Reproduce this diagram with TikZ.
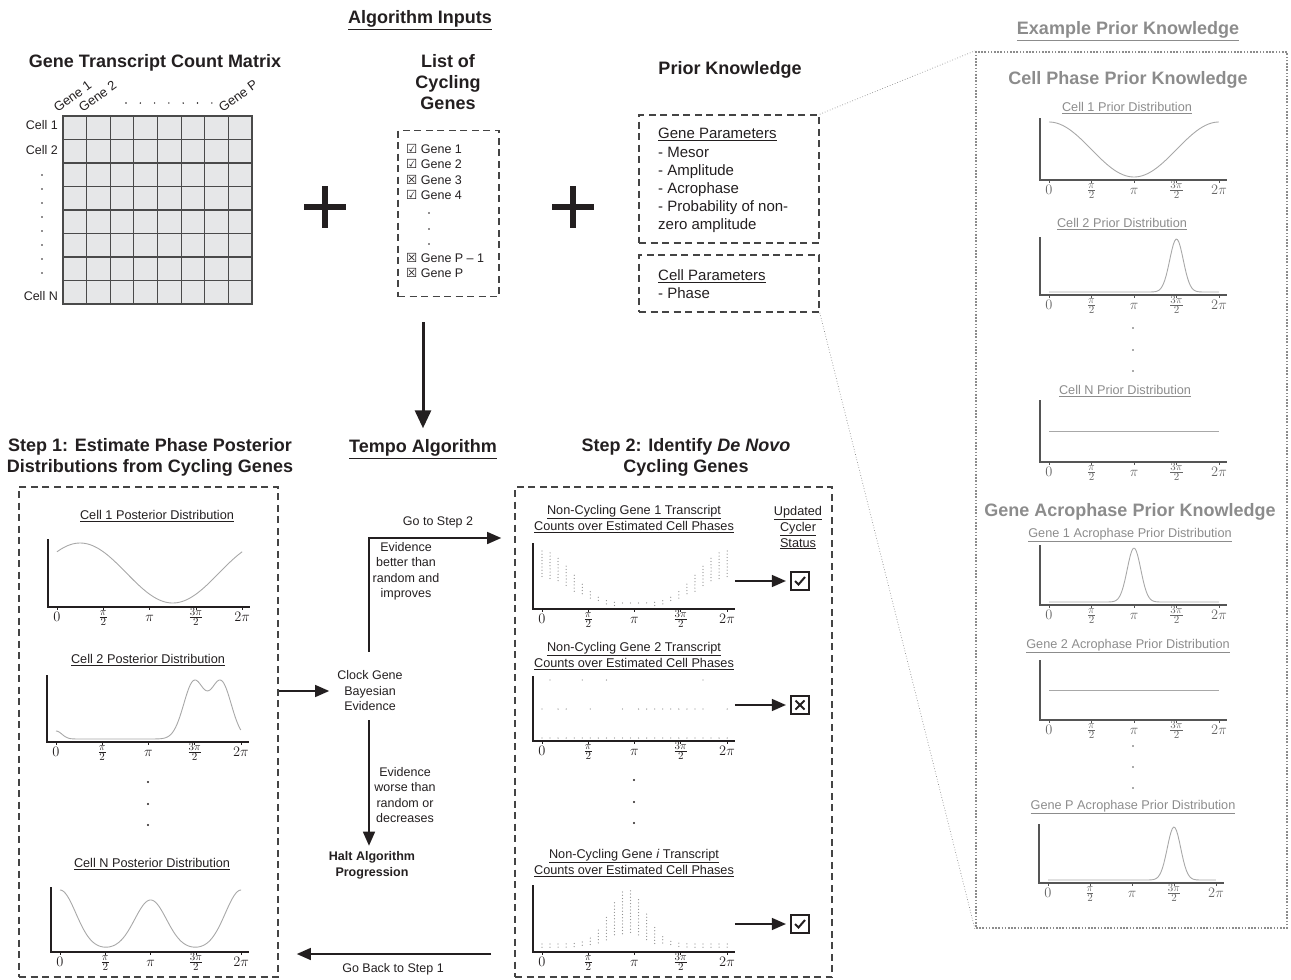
\documentclass[tikz,border=0pt]{standalone}
\usepackage{fontspec}
\setmainfont{Liberation Sans}
\newfontfamily\symfnt{DejaVu Sans}
\usetikzlibrary{arrows.meta,calc}
\definecolor{ink}{HTML}{231F20}
\definecolor{cvc}{HTML}{A8A8A8}
\definecolor{gtx}{HTML}{8C8C8C}
\definecolor{rpax}{HTML}{555555}
\definecolor{rplab}{HTML}{666666}
\definecolor{cellfill}{HTML}{E6E7E8}
\definecolor{gridc}{HTML}{4A4A4A}
\definecolor{dotc}{HTML}{8E8E8E}
\definecolor{dashc}{HTML}{444444}
\newcommand\fsz[2]{\fontsize{#1}{#2}\selectfont}
% #1 x of 0 tick, #2 y of x axis, #3 tick spacing, #4 axis height, #5 axis colour, #6 label colour
\newcommand\plotaxes[6]{%
  \draw[#5, line width=1.3pt] (#1-9,#2-#4) -- (#1-9,#2) -- (#1+4*#3+8,#2);
  \foreach \kk/\tlab in {0/{$0$},1/{$\frac{\pi}{2}$},2/{$\pi$},3/{$\frac{3\pi}{2}$},4/{$2\pi$}}{%
    \draw[#5, line width=0.6pt] (#1+\kk*#3,#2) -- (#1+\kk*#3,#2+2.5);
    \node[ticklbl, text=#6] at (#1+\kk*#3,#2+14) {\tlab};}%
}
\begin{document}
\begin{tikzpicture}[x=1pt,y=-1pt,
  declare function={gs(\pa,\pb,\pc)=exp(max(-9,(0-0.5)*(((\pa-\pb)/\pc)^2)));},
  txt/.style={inner sep=0pt, text=ink, font=\fsz{12.5}{15.5}, align=center},
  ttl/.style={inner sep=0pt, text=ink, font=\bfseries\fsz{18}{21}, align=center},
  ptl/.style={inner sep=0pt, text=ink, font=\fsz{12.7}{16}, align=center},
  gtl/.style={ttl, text=gtx},
  gpt/.style={ptl, text=gtx},
  ptxt/.style={inner sep=0pt, text=ink, font=\fsz{15}{18}, anchor=base west},
  dbox/.style={draw=dashc, line width=1.6pt, dash pattern=on 7pt off 4.5pt},
  ticklbl/.style={inner sep=0pt, anchor=base, font=\fsz{15}{17}},
  cv/.style={cvc, line width=0.9pt},
  arr/.style={ink, line width=1.4pt, -{Triangle[length=14pt,width=12pt]}},
  bigarr/.style={ink, line width=3pt, -{Triangle[length=18pt,width=16pt]}},
  scat/.style={dotc, line width=1.25pt, line cap=round, dash pattern=on 0pt off 3.2pt},
  cbox/.style={draw=ink, line width=2.2pt, minimum size=18pt, inner sep=0pt},
  dotline/.style={gtx, line width=0.7pt, dotted},
  vdot/.style={ink},
]
\useasboundingbox (0,0) rectangle (1291,980);

% ---------------- Top: inputs ----------------
\node[ttl, anchor=base] (alginputs) at (420,23.5) {\underline{Algorithm Inputs}};
\node[ttl, anchor=base] (mattitle) at (155,67.5) {Gene Transcript Count Matrix};

% matrix
\node[draw=gridc, fill=cellfill, line width=1.2pt, minimum width=189pt, minimum height=188pt, inner sep=0pt] (matrix) at (157.5,210) {};
\foreach \i in {1,...,7} {
  \draw[gridc, line width=1.2pt] (63+\i*23.625,116) -- (63+\i*23.625,304);
  \draw[gridc, line width=1.2pt] (63,116+\i*23.5) -- (252,116+\i*23.5);
}
\node[txt, anchor=east] (cell1) at (58,125) {Cell 1};
\node[txt, anchor=east] (cell2) at (58,150) {Cell 2};
\node[txt, anchor=east] (celln) at (58,296) {Cell N};
\foreach \y in {175,189,203,217,231,245,259,273} \fill[vdot] (42,\y) circle (0.8);
\node[txt, font=\fsz{13}{15}, rotate=36, anchor=south west] (gene1) at (58,113) {Gene 1};
\node[txt, font=\fsz{13}{15}, rotate=36, anchor=south west] (gene2) at (83,113) {Gene 2};
\node[txt, font=\fsz{13}{15}, rotate=36, anchor=south west] (genep) at (223,113) {Gene P};
\foreach \i in {0,...,6} \fill[vdot] (126+\i*14.3,103) circle (0.8);

% plus signs
\draw[ink, line width=6pt] (304,207) -- (346,207) (325,186) -- (325,228);
\draw[ink, line width=6pt] (552,207) -- (594,207) (573,186) -- (573,228);

% list of cycling genes
\node[ttl] (listtitle) at (448,82) {List of\\Cycling\\Genes};
\node[dbox, minimum width=101pt, minimum height=166pt, inner sep=0pt] (listbox) at (448.5,213.5) {};
\node[txt, anchor=west] (li1) at (406,149) {{\symfnt ☑} Gene 1};
\node[txt, anchor=west] (li2) at (406,164.5) {{\symfnt ☑} Gene 2};
\node[txt, anchor=west] (li3) at (406,180) {{\symfnt ☒} Gene 3};
\node[txt, anchor=west] (li4) at (406,195.5) {{\symfnt ☑} Gene 4};
\foreach \y in {213,229,244} \fill[vdot] (429,\y) circle (0.9);
\node[txt, anchor=west] (li5) at (406,258) {{\symfnt ☒} Gene P -- 1};
\node[txt, anchor=west] (li6) at (406,273.5) {{\symfnt ☒} Gene P};

% prior knowledge
\node[ttl, anchor=base] (priortitle) at (730,74.5) {Prior Knowledge};
\node[dbox, minimum width=180pt, minimum height=128pt, inner sep=0pt] (genebox) at (729,179) {};
\node[ptxt] (gp1) at (658,138.5) {\underline{Gene Parameters}};
\node[ptxt] (gp2) at (658,157) {- Mesor};
\node[ptxt] (gp3) at (658,175.5) {- Amplitude};
\node[ptxt] (gp4) at (658,193.5) {- Acrophase};
\node[ptxt] (gp5) at (658,211.5) {- Probability of non-};
\node[ptxt] (gp6) at (658,229.5) {zero amplitude};
\node[dbox, minimum width=180pt, minimum height=57pt, inner sep=0pt] (cellbox) at (729,283.5) {};
\node[ptxt] (cp1) at (658,280.5) {\underline{Cell Parameters}};
\node[ptxt] (cp2) at (658,298.5) {- Phase};

% ---------------- Right panel ----------------
\node[gtl, anchor=base] (extitle) at (1128,34.5) {\underline{Example Prior Knowledge}};
\node[draw=gtx, line width=2.2pt, dash pattern=on 1.6pt off 1.6pt, minimum width=311pt, minimum height=876pt, inner sep=0pt] (panel) at (1131.5,490) {};
\draw[dotline] (genebox.north east) -- (panel.north west);
\draw[dotline] (cellbox.south east) -- (panel.south west);

\node[gtl, anchor=base] (cptitle) at (1128,84.5) {Cell Phase Prior Knowledge};
\node[gpt, anchor=base] (rp1) at (1127,111.6) {\underline{Cell 1 Prior Distribution}};
\plotaxes{1049}{180}{42.5}{62}{rpax}{rplab}
\draw[cv] plot[domain=0:6.2832,samples=90,variable=\t] ({1049+27.056*\t},{180-3-27.5*(1+cos(\t r))});
\node[gpt, anchor=base] (rp2) at (1122,227.6) {\underline{Cell 2 Prior Distribution}};
\plotaxes{1049}{295}{42.5}{58}{rpax}{rplab}
\draw[cv] plot[domain=0:6.2832,samples=120,variable=\t] ({1049+27.056*\t},{295-3-53*gs(\t,4.712,0.25)});
\foreach \y in {328,350,371} \fill[rpax] (1133,\y) circle (0.8);
\node[gpt, anchor=base] (rp3) at (1125,394.6) {\underline{Cell N Prior Distribution}};
\plotaxes{1049}{462}{42.5}{62}{rpax}{rplab}
\draw[cv] (1049,431) -- (1219,431);

\node[gtl, anchor=base] (gatitle) at (1130,516.5) {Gene Acrophase Prior Knowledge};
\node[gpt, anchor=base] (rp4) at (1130,537.6) {\underline{Gene 1 Acrophase Prior Distribution}};
\plotaxes{1049}{605}{42.5}{60}{rpax}{rplab}
\draw[cv] plot[domain=0:6.2832,samples=120,variable=\t] ({1049+27.056*\t},{605-3-54*gs(\t,3.1416,0.25)});
\node[gpt, anchor=base] (rp5) at (1128,648.6) {\underline{Gene 2 Acrophase Prior Distribution}};
\plotaxes{1049}{720}{42.5}{60}{rpax}{rplab}
\draw[cv] (1049,690) -- (1219,690);
\foreach \y in {746,767,788} \fill[rpax] (1133,\y) circle (0.8);
\node[gpt, anchor=base] (rp6) at (1133,809.6) {\underline{Gene P Acrophase Prior Distribution}};
\plotaxes{1048}{883}{42}{59}{rpax}{rplab}
\draw[cv] plot[domain=0:6.2832,samples=120,variable=\t] ({1048+26.738*\t},{883-3-53*gs(\t,4.712,0.25)});

% ---------------- Step 1 ----------------
\node[ttl] (s1title) at (150,457.5) {Step 1: Estimate Phase Posterior\\Distributions from Cycling Genes};
\node[dbox, minimum width=259pt, minimum height=490pt, inner sep=0pt] (s1box) at (148.5,732) {};
\node[ptl, anchor=base] (s1p1) at (157,519.6) {\underline{Cell 1 Posterior Distribution}};
\plotaxes{57}{607}{46.3}{68}{ink}{ink}
\draw[cv] plot[domain=0:6.2832,samples=90,variable=\t] ({57+29.476*\t},{607-4-30*(1+cos((\t-0.785) r))});
\node[ptl, anchor=base] (s1p2) at (148,663.6) {\underline{Cell 2 Posterior Distribution}};
\plotaxes{56}{742}{46.2}{67}{ink}{ink}
\draw[cv] plot[domain=0:6.2832,samples=140,variable=\t] ({56+29.412*\t},{742-3-8*gs(\t,0,0.2)-57*gs(\t,4.69,0.35)-57*gs(\t,5.61,0.35)});
\foreach \y in {782,804,825} \fill[ink] (148,\y) circle (1.1);
\node[ptl, anchor=base] (s1p3) at (152,867.6) {\underline{Cell N Posterior Distribution}};
\plotaxes{60}{952}{45.3}{65}{ink}{ink}
\draw[cv] plot[domain=0:6.2832,samples=140,variable=\t] ({60+28.839*\t},{952-3-59*gs(\t,0,0.55)-49*gs(\t,3.1416,0.55)-59*gs(\t,6.2832,0.55)});

% ---------------- Tempo algorithm (middle) ----------------
\node[ttl, anchor=base] (tempo) at (423,452.5) {\underline{Tempo Algorithm}};
\draw[bigarr, shorten <=25pt, shorten >=11pt] (listbox.south -| tempo.north) -- (tempo.north);
\node[txt] (clock) at (370,691) {Clock Gene\\Bayesian\\Evidence};
\node[txt, anchor=base] (goto2) at (438,525.5) {Go to Step 2};
\node[txt] (evbetter) at (406,571.5) {Evidence\\better than\\random and\\improves};
\node[txt] (evworse) at (405,795) {Evidence\\worse than\\random or\\decreases};
\node[txt, font=\bfseries\fsz{12.5}{15.5}] (halt) at (372,865.5) {Halt Algorithm\\Progression};
\node[txt, anchor=base] (goback) at (393,972.5) {Go Back to Step 1};
\coordinate (turn) at (369,538);
\coordinate (back) at (400,954);

% ---------------- Step 2 ----------------
\node[ttl] (s2title) at (686,457) {Step 2: Identify \textit{De Novo}\\Cycling Genes};
\node[dbox, minimum width=317pt, minimum height=490pt, inner sep=0pt] (s2box) at (673.5,732) {};
\node[ptl] (ucs) at (798,527.5) {\underline{Updated}\\\underline{Cycler}\\\underline{Status}};

\node[ptl] (s2p1) at (634,519) {\underline{Non-Cycling Gene 1 Transcript}\\\underline{Counts over Estimated Cell Phases}};
\plotaxes{542}{609}{46.25}{66}{ink}{ink}
\foreach \i in {0,...,23} {
  \pgfmathsetmacro\qx{542+\i*8.05}
  \pgfmathsetmacro\qt{\i*6.2832/23}
  \pgfmathsetmacro\qL{((1+cos(\qt r))/2)^2}
  \pgfmathsetmacro\qa{603-52*\qL}
  \pgfmathsetmacro\qb{606-27*\qL}
  \draw[scat] (\qx,\qa) -- (\qx,\qb);
}
\node[cbox] (chk1) at (800,581) {};
\draw[ink, line width=2pt] ($(chk1.center)+(-5,0)$) -- ($(chk1.center)+(-1.5,3.5)$) -- ($(chk1.center)+(5,-4)$);

\node[ptl] (s2p2) at (634,656) {\underline{Non-Cycling Gene 2 Transcript}\\\underline{Counts over Estimated Cell Phases}};
\plotaxes{542}{741}{46.25}{65}{ink}{ink}
\foreach \i in {0,...,23} \fill[dotc] (542+\i*8.05,738) circle (0.65);
\foreach \i in {0,2,3,6,10,12,13,14,15,16,17,18,19,20,23} \fill[dotc] (542+\i*8.05,709) circle (0.65);
\foreach \i in {1,5,8,20} \fill[dotc] (542+\i*8.05,680) circle (0.65);
\node[cbox] (chk2) at (800,705) {};
\draw[ink, line width=2pt] ($(chk2.center)+(-4.5,-4.5)$) -- ($(chk2.center)+(4.5,4.5)$) ($(chk2.center)+(-4.5,4.5)$) -- ($(chk2.center)+(4.5,-4.5)$);

\foreach \y in {780,802,823} \fill[ink] (634,\y) circle (1.1);

\node[ptl] (s2p3) at (634,863) {\underline{Non-Cycling Gene \textit{i} Transcript}\\\underline{Counts over Estimated Cell Phases}};
\plotaxes{542}{952}{46.25}{67}{ink}{ink}
\foreach \i in {0,...,23} {
  \pgfmathsetmacro\qx{542+\i*8.05}
  \pgfmathsetmacro\qt{\i*6.2832/23}
  \pgfmathsetmacro\qL{gs(\qt,2.9,0.6)}
  \pgfmathsetmacro\qa{944-54*\qL}
  \pgfmathsetmacro\qb{948-14*\qL}
  \draw[scat] (\qx,\qa) -- (\qx,\qb);
}
\node[cbox] (chk3) at (800,924) {};
\draw[ink, line width=2pt] ($(chk3.center)+(-5,0)$) -- ($(chk3.center)+(-1.5,3.5)$) -- ($(chk3.center)+(5,-4)$);

% ---------------- connectors ----------------
\draw[arr, shorten >=8pt] (clock.west -| s1box.east) -- (clock.west);
\draw[arr, shorten <=19pt, shorten >=13pt] (clock.north -| turn) -- (turn) -- (turn -| s2box.west);
\draw[arr, shorten <=9pt, shorten >=6pt] (clock.south -| turn) -- (halt.north -| turn);
\draw[arr, shorten <=23pt, shorten >=18pt] (back -| s2box.west) -- (back -| s1box.east);
\draw[arr, shorten >=4pt] ([xshift=-55pt]chk1.west) -- (chk1.west);
\draw[arr, shorten >=4pt] ([xshift=-55pt]chk2.west) -- (chk2.west);
\draw[arr, shorten >=4pt] ([xshift=-55pt]chk3.west) -- (chk3.west);
\end{tikzpicture}
\end{document}
